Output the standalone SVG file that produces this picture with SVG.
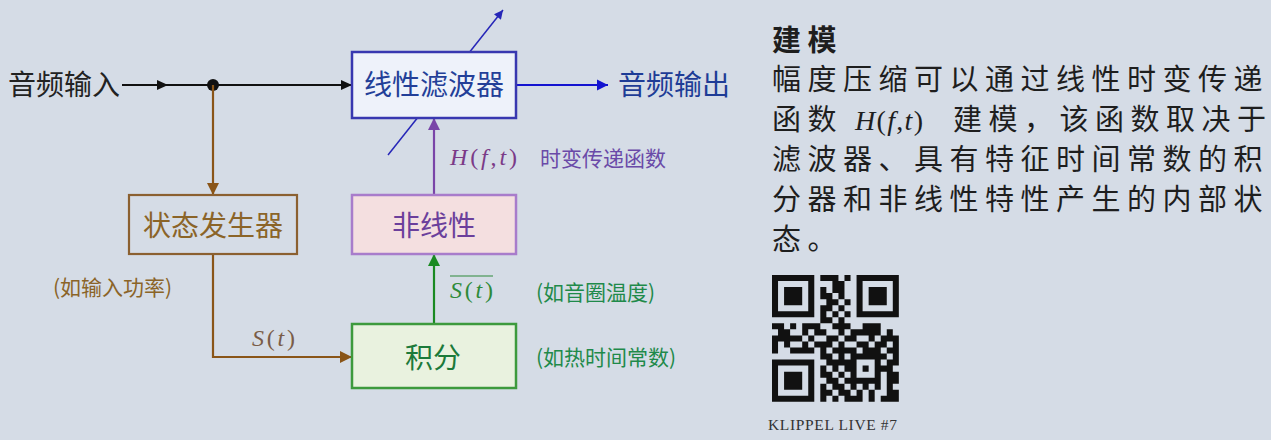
<svg xmlns="http://www.w3.org/2000/svg" width="1271" height="440" viewBox="0 0 1271 440">
<style>
.cjk{font-family:"Noto Sans CJK SC","Noto Sans",sans-serif}
.math{font-family:"Liberation Serif",serif}
.it{font-style:italic}
.main{font-size:28px}
.note{font-size:21px}
.body{font-family:"Noto Sans CJK SC",sans-serif;font-size:29px;letter-spacing:6.5px;fill:#1e1e1e}
.line{fill:none;stroke-width:2.2}
</style>
<defs>
<marker id="aBlack" viewBox="0 0 10 10" refX="10" refY="5" markerWidth="11" markerHeight="11" markerUnits="userSpaceOnUse" orient="auto"><path d="M0,0.5 L10,5 L0,9.5z" fill="#111"/></marker>
<marker id="aBlue" viewBox="0 0 10 10" refX="10" refY="5" markerWidth="11" markerHeight="12" markerUnits="userSpaceOnUse" orient="auto"><path d="M0,0 L10,5 L0,10z" fill="#1414d0"/></marker>
<marker id="aDiag" viewBox="0 0 10 10" refX="10" refY="5" markerWidth="11" markerHeight="9" markerUnits="userSpaceOnUse" orient="auto"><path d="M0,0 L10,5 L0,10z" fill="#2626b8"/></marker>
<marker id="aBrown" viewBox="0 0 10 10" refX="10" refY="5" markerWidth="12" markerHeight="12" markerUnits="userSpaceOnUse" orient="auto"><path d="M0,0 L10,5 L0,10z" fill="#8a5518"/></marker>
<marker id="aPurple" viewBox="0 0 10 10" refX="10" refY="5" markerWidth="12" markerHeight="12" markerUnits="userSpaceOnUse" orient="auto"><path d="M0,0 L10,5 L0,10z" fill="#7a45a8"/></marker>
<marker id="aGreen" viewBox="0 0 10 10" refX="10" refY="5" markerWidth="12" markerHeight="12" markerUnits="userSpaceOnUse" orient="auto"><path d="M0,0 L10,5 L0,10z" fill="#1a8a22"/></marker>
</defs>
<rect width="1271" height="440" fill="#d5dce6"/>

<g id="connectors">
  <path class="line" d="M122 85 H168" stroke="#111" marker-end="url(#aBlack)"/>
  <path class="line" d="M168 85 H352" stroke="#111" marker-end="url(#aBlack)"/>
  <circle cx="213" cy="85" r="6" fill="#111"/>
  <path class="line" d="M516 85 H608" stroke="#1414d0" marker-end="url(#aBlue)"/>
  <path d="M388 155 L503 10" fill="none" stroke="#2626b8" stroke-width="1.5" marker-end="url(#aDiag)"/>
  <path class="line" d="M213 85 V195" stroke="#8a5518" marker-end="url(#aBrown)"/>
  <path class="line" d="M213 254 V357 H352" stroke="#8a5518" marker-end="url(#aBrown)"/>
  <path class="line" d="M434 195 V118" stroke="#7a45a8" stroke-width="2.6" marker-end="url(#aPurple)"/>
  <path class="line" d="M434 324 V254" stroke="#1a8a22" stroke-width="2.6" marker-end="url(#aGreen)"/>
</g>

<g id="input"><text class="cjk main" x="8" y="95" fill="#222">音频输入</text></g>
<g id="output"><text class="cjk main" x="618" y="95" fill="#1e3c96">音频输出</text></g>

<g id="filter">
  <rect x="352" y="52" width="164" height="66" fill="#eef2fa" stroke="#3838b0" stroke-width="2.5"/>
  <text class="cjk main" x="434" y="95" text-anchor="middle" fill="#233f98">线性滤波器</text>
</g>
<g id="state">
  <rect x="129" y="195" width="168" height="59" fill="#d5dce6" stroke="#8b6030" stroke-width="2.2"/>
  <text class="cjk main" x="213" y="236" text-anchor="middle" fill="#8b6428">状态发生器</text>
</g>
<g id="nonlinear">
  <rect x="352" y="195" width="164" height="59" fill="#f4dfe0" stroke="#a87ccb" stroke-width="2.5"/>
  <text class="cjk main" x="434" y="236" text-anchor="middle" fill="#6b3f9c">非线性</text>
</g>
<g id="integrator">
  <rect x="352" y="324" width="164" height="64" fill="#e9f2df" stroke="#3d9a3d" stroke-width="2.5"/>
  <text class="cjk main" x="433" y="368" text-anchor="middle" fill="#1c7a3a">积分</text>
</g>

<g id="labels">
  <text class="math" x="450" y="165" font-size="24" fill="#7b3a88" textLength="67" lengthAdjust="spacing"><tspan class="it">H</tspan>(<tspan class="it">f</tspan>,<tspan class="it">t</tspan>)</text>
  <text class="cjk note" x="540" y="165.5" fill="#6a4aa8">时变传递函数</text>
  <text class="cjk note" x="53" y="294.5" fill="#8b6428">(如输入功率)</text>
  <text class="math" x="252" y="346" font-size="24" fill="#7a5c48" textLength="43" lengthAdjust="spacing"><tspan class="it">S</tspan>(<tspan class="it">t</tspan>)</text>
  <text class="math" x="450" y="298" font-size="24" fill="#2f8a3a" textLength="43" lengthAdjust="spacing"><tspan class="it">S</tspan>(<tspan class="it">t</tspan>)</text>
  <line x1="450" y1="276" x2="493" y2="276" stroke="#2f8a3a" stroke-width="1.2"/>
  <text class="cjk note" x="536" y="299.5" fill="#1f8a4a">(如音圈温度)</text>
  <text class="cjk note" x="536" y="364.5" fill="#1f8a4a">(如热时间常数)</text>
</g>

<g id="description">
  <text class="body" x="772" y="51" font-weight="bold">建模</text>
  <text class="body" x="772" y="90">幅度压缩可以通过线性时变传递</text>
  <text class="body" x="772" y="130">函数</text>
  <text class="math" x="855" y="130" font-size="28" fill="#1e1e1e" textLength="68" lengthAdjust="spacing"><tspan class="it">H</tspan>(<tspan class="it">f</tspan>,<tspan class="it">t</tspan>)</text>
  <text class="body" x="953" y="130">建模，该函数取决于</text>
  <text class="body" x="772" y="170">滤波器、具有特征时间常数的积</text>
  <text class="body" x="772" y="210">分器和非线性特性产生的内部状</text>
  <text class="body" x="772" y="250">态。</text>
</g>

<g id="qr">
  <g transform="translate(772 275) scale(6.04)">
    <path fill="#111" d="M0 0h7v1h-7zM8 0h3v1h-3zM12 0h1v1h-1zM14 0h7v1h-7zM0 1h1v1h-1zM6 1h1v1h-1zM10 1h2v1h-2zM14 1h1v1h-1zM20 1h1v1h-1zM0 2h1v1h-1zM2 2h3v1h-3zM6 2h1v1h-1zM8 2h1v1h-1zM10 2h2v1h-2zM14 2h1v1h-1zM16 2h3v1h-3zM20 2h1v1h-1zM0 3h1v1h-1zM2 3h3v1h-3zM6 3h1v1h-1zM8 3h2v1h-2zM11 3h1v1h-1zM14 3h1v1h-1zM16 3h3v1h-3zM20 3h1v1h-1zM0 4h1v1h-1zM2 4h3v1h-3zM6 4h1v1h-1zM9 4h2v1h-2zM12 4h1v1h-1zM14 4h1v1h-1zM16 4h3v1h-3zM20 4h1v1h-1zM0 5h1v1h-1zM6 5h1v1h-1zM8 5h2v1h-2zM11 5h1v1h-1zM14 5h1v1h-1zM20 5h1v1h-1zM0 6h7v1h-7zM8 6h1v1h-1zM10 6h1v1h-1zM12 6h1v1h-1zM14 6h7v1h-7zM8 7h2v1h-2zM11 7h1v1h-1zM0 8h2v1h-2zM3 8h1v1h-1zM5 8h3v1h-3zM10 8h3v1h-3zM15 8h3v1h-3zM1 9h2v1h-2zM5 9h1v1h-1zM7 9h2v1h-2zM11 9h1v1h-1zM13 9h5v1h-5zM19 9h1v1h-1zM0 10h5v1h-5zM6 10h1v1h-1zM9 10h2v1h-2zM12 10h2v1h-2zM16 10h1v1h-1zM18 10h3v1h-3zM0 11h1v1h-1zM2 11h1v1h-1zM5 11h1v1h-1zM7 11h3v1h-3zM11 11h1v1h-1zM14 11h2v1h-2zM17 11h2v1h-2zM20 11h1v1h-1zM0 12h1v1h-1zM3 12h4v1h-4zM8 12h1v1h-1zM10 12h4v1h-4zM15 12h3v1h-3zM19 12h2v1h-2zM8 13h2v1h-2zM11 13h1v1h-1zM13 13h6v1h-6zM20 13h1v1h-1zM0 14h7v1h-7zM9 14h5v1h-5zM17 14h1v1h-1zM19 14h2v1h-2zM0 15h1v1h-1zM6 15h1v1h-1zM8 15h1v1h-1zM10 15h1v1h-1zM12 15h2v1h-2zM15 15h1v1h-1zM17 15h3v1h-3zM0 16h1v1h-1zM2 16h3v1h-3zM6 16h1v1h-1zM8 16h2v1h-2zM11 16h1v1h-1zM13 16h1v1h-1zM17 16h1v1h-1zM19 16h2v1h-2zM0 17h1v1h-1zM2 17h3v1h-3zM6 17h1v1h-1zM9 17h2v1h-2zM12 17h6v1h-6zM19 17h2v1h-2zM0 18h1v1h-1zM2 18h3v1h-3zM6 18h1v1h-1zM8 18h1v1h-1zM10 18h2v1h-2zM13 18h1v1h-1zM15 18h1v1h-1zM17 18h1v1h-1zM19 18h1v1h-1zM0 19h1v1h-1zM6 19h1v1h-1zM8 19h2v1h-2zM11 19h2v1h-2zM14 19h1v1h-1zM16 19h1v1h-1zM19 19h2v1h-2zM0 20h7v1h-7zM8 20h1v1h-1zM10 20h1v1h-1zM12 20h3v1h-3zM16 20h1v1h-1zM18 20h3v1h-3z"/>
  </g>
  <text class="math" x="768" y="430" font-size="15.5" fill="#333" textLength="129" lengthAdjust="spacing">KLIPPEL LIVE #7</text>
</g>
</svg>
